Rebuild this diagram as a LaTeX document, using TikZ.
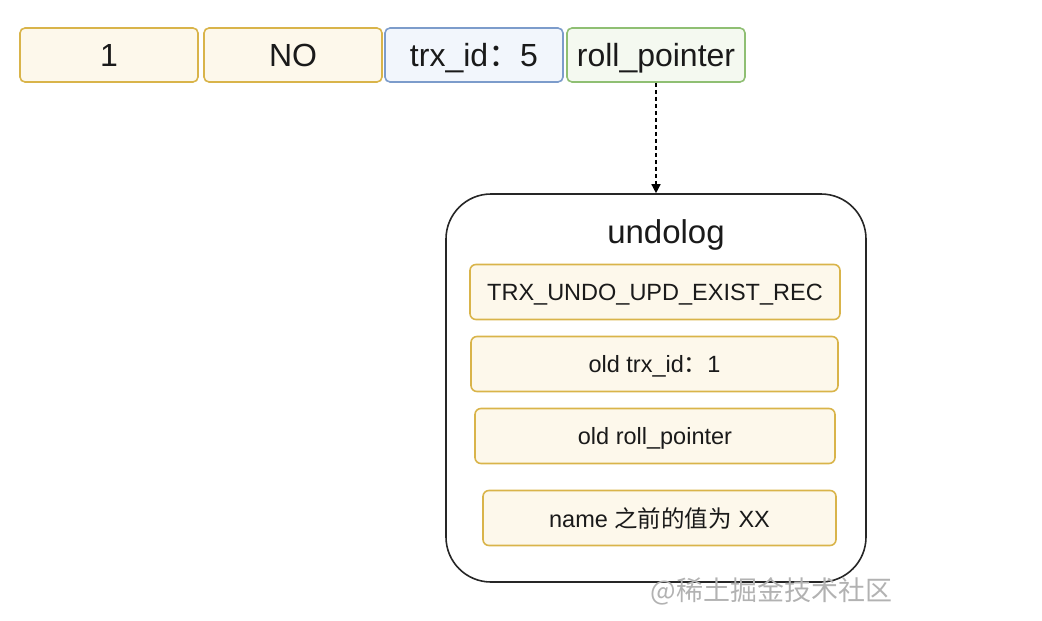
\documentclass[tikz,border=0pt]{standalone}
\usepackage{fontspec}
\setmainfont{Liberation Sans}
\newfontfamily\cjk{Noto Sans CJK SC}
\usetikzlibrary{arrows.meta}
\definecolor{ystroke}{HTML}{D9B44A}
\definecolor{yfill}{HTML}{FDF8EB}
\definecolor{bstroke}{HTML}{7C9CCB}
\definecolor{bfill}{HTML}{F2F6FC}
\definecolor{gstroke}{HTML}{8FBF73}
\definecolor{gfill}{HTML}{F4F9F0}
\definecolor{txt}{HTML}{1A1A1A}
\tikzset{
  cell/.style={draw=ystroke, fill=yfill, line width=1.6pt, rounded corners=5pt, minimum width=178pt, minimum height=54pt, inner sep=0pt, text=txt, text depth=0pt, font=\fontsize{32}{36}\selectfont},
  bcell/.style={cell, draw=bstroke, fill=bfill},
  gcell/.style={cell, draw=gstroke, fill=gfill},
  ucell/.style={draw=ystroke, fill=yfill, line width=1.6pt, rounded corners=6pt, minimum height=55pt, inner sep=0pt, text=txt, text depth=0pt, font=\fontsize{23.5}{27}\selectfont},
  bigbox/.style={draw=black!85, line width=1.6pt, rounded corners=45pt, inner sep=0pt},
}
\begin{document}
\begin{tikzpicture}[x=1pt,y=-1pt]
\useasboundingbox (0,0) rectangle (1042,621);
\node[cell] (one) at (109,55) {1};
\node[cell] (no) at (293,55) {NO};
\node[bcell] (trx) at (474,55) {trx\_id{\cjk ：}5};
\node[gcell] (roll) at (656,55) {roll\_pointer};
\node[bigbox, minimum width=420pt, minimum height=388pt] (undo) at (656,388) {};
\node[text=txt, font=\fontsize{33}{38}\selectfont] (title) at (666,235) {undolog};
\node[ucell, minimum width=370pt] (u1) at (655,292) {TRX\_UNDO\_UPD\_EXIST\_REC};
\node[ucell, minimum width=367pt] (u2) at (654.5,364) {old trx\_id{\cjk ：}1};
\node[ucell, minimum width=360pt] (u3) at (655,436) {old roll\_pointer};
\node[ucell, minimum width=353pt] (u4) at (659.5,518) {name {\cjk 之前的值为} XX};
\draw[dash pattern=on 4pt off 3pt, line width=1.4pt, -{Triangle[length=9pt,width=9pt]}] (roll.south) -- (undo.north);
\node[text=black!30, font=\cjk\fontsize{27}{30}\selectfont, anchor=east] (wm) at (896,591) {@稀土掘金技术社区};
\end{tikzpicture}
\end{document}
